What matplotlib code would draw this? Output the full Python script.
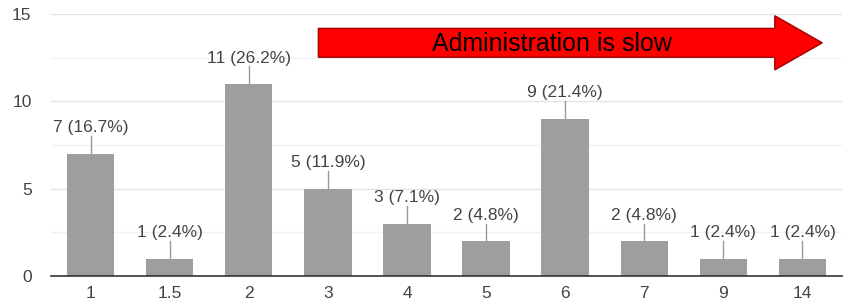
import numpy as np
import matplotlib
matplotlib.use("Agg")
import matplotlib.pyplot as plt
from matplotlib.patches import FancyArrow

# data
categories = ["1", "1.5", "2", "3", "4", "5", "6", "7", "9", "14"]
counts = [7, 1, 11, 5, 3, 2, 9, 2, 1, 1]
percents = [16.7, 2.4, 26.2, 11.9, 7.1, 4.8, 21.4, 4.8, 2.4, 2.4]
y_ticks = [0, 5, 10, 15]
arrow_text = "Administration is slow"

plt.rcParams['font.family'] = ['Liberation Sans', 'DejaVu Sans']

fig = plt.figure(figsize=(8.46, 3.03), dpi=100)
ax = fig.add_axes([0.0603, 0.0891, 0.935, 0.8647])

x = np.arange(len(categories))
ax.bar(x, counts, width=0.6, color='#9e9e9e', zorder=3)

# value labels with the little connector line
for xi, c, p in zip(x, counts, percents):
    ax.plot([xi, xi], [c, c + 1.0], color='#9a9a9a', linewidth=1, zorder=2)
    ax.text(xi, c + 1.05, f"{c} ({p}%)", ha='center', va='bottom',
            fontsize=12.5, color='#444444')

ax.set_xlim(-0.5, len(categories) - 0.5)
ax.set_ylim(0, 15)
ax.set_xticks(x)
ax.set_xticklabels(categories)
ax.set_yticks(y_ticks)
ax.set_yticks(np.arange(0, 15.1, 2.5), minor=True)
ax.tick_params(axis='both', length=0, labelsize=12.5, colors='#444444')
ax.tick_params(axis='x', pad=7)
ax.tick_params(axis='y', pad=14)
ax.tick_params(which='minor', length=0)

# grid
ax.grid(axis='y', which='minor', color='#f2f2f2', linewidth=1, zorder=0)
ax.grid(axis='y', which='major', color='#e4e4e4', linewidth=1, zorder=0)
for s in ['left', 'right', 'top']:
    ax.spines[s].set_visible(False)
ax.spines['bottom'].set_color('#333333')
ax.spines['bottom'].set_linewidth(1.2)
ax.spines['bottom'].set_zorder(4)

# red arrow annotation
arr = FancyArrow(2.88, 13.35, 6.37, 0, width=1.65, head_width=3.1,
                 head_length=0.6, length_includes_head=True,
                 facecolor='#ff0000', edgecolor='#a00000', linewidth=1,
                 zorder=5, clip_on=False)
ax.add_patch(arr)
ax.text(5.83, 13.3, arrow_text, ha='center', va='center', fontsize=18,
        color='black', zorder=6)

fig.savefig("out.png", dpi=100)
